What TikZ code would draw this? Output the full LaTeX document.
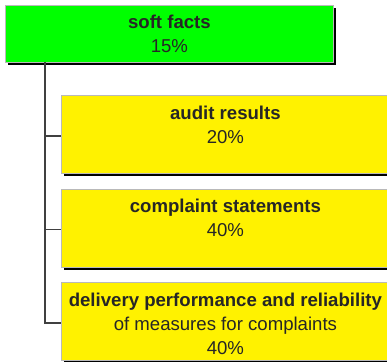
\documentclass[tikz,border=0pt]{standalone}
\usepackage{fontspec}
\setmainfont{Liberation Sans}
\usetikzlibrary{shadows,positioning}

\begin{document}
\begin{tikzpicture}[x=1pt, y=-1pt,
    factbox/.style={draw=gray!55, line width=0.8pt, anchor=north west, inner sep=0pt,
      minimum width=328pt, minimum height=78pt,
      drop shadow={shadow xshift=3pt, shadow yshift=-3pt, fill=black, opacity=1}},
    boxtext/.style={font=\fontsize{18.6pt}{24pt}\selectfont, align=center, inner sep=0pt, text=black!85},
    conn/.style={draw=black!75, line width=1.2pt}
  ]
  \useasboundingbox (0,0) rectangle (387,361);
  \node[factbox, fill=green, minimum height=57pt] (soft) at (5,5) {};
  \node[boxtext, below=10pt of soft.north] (softText) {\textbf{soft facts}\\15\%};
  \coordinate (trunk) at (45,62);
  \foreach \nm/\ytop/\txt in {
      audit/95/{\textbf{audit results}\\20\%},
      complaint/188.5/{\textbf{complaint statements}\\40\%},
      delivery/282/{\textbf{delivery performance and reliability}\\of measures for complaints\\40\%}}
  {
    \node[factbox, fill=yellow] (\nm) at (61,\ytop) {};
    \node[boxtext, below=10.5pt of \nm.north] (\nm Text) {\txt};
    \draw[conn] (trunk) |- ([yshift=-1.5pt]\nm.west);
  }
\end{tikzpicture}
\end{document}
